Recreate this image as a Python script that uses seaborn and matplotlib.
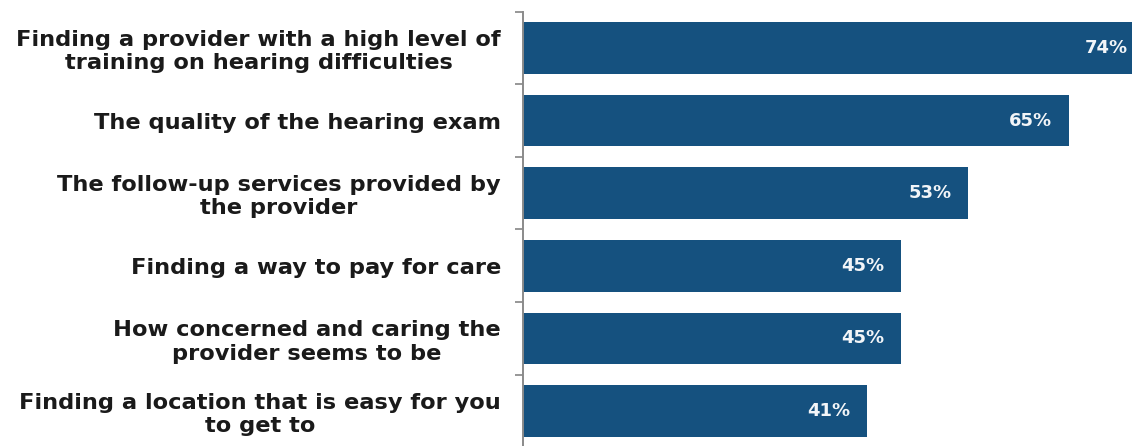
import matplotlib
matplotlib.use("Agg")
import matplotlib.pyplot as plt
import seaborn as sns
import pandas as pd
from matplotlib.ticker import FixedLocator

categories = [
    "Finding a provider with a high level of\ntraining on hearing difficulties",
    "The quality of the hearing exam",
    "The follow-up services provided by\nthe provider",
    "Finding a way to pay for care",
    "How concerned and caring the\nprovider seems to be",
    "Finding a location that is easy for you\nto get to",
]
values = [74, 65, 53, 45, 45, 41]
value_labels = ["74%", "65%", "53%", "45%", "45%", "41%"]

df = pd.DataFrame({"factor": categories, "share": values})

sns.set_theme(style="white")
plt.rcParams["font.family"] = ["DejaVu Sans"]

bar_color = "#15517f"

fig = plt.figure(figsize=(11.32, 4.46), dpi=100)
ax = fig.add_axes([0.462, -0.003, 0.538, 0.977])

sns.barplot(data=df, x="share", y="factor", orient="h", color=bar_color,
            width=0.71, saturation=1, ax=ax, edgecolor="none")

ax.set_xlim(0, 72.5)
ax.set_ylim(len(categories) - 0.5, -0.5)

# value labels inside the bar ends
for i, (v, lab) in enumerate(zip(values, value_labels)):
    ax.text(v - 2.0, i, lab, ha="right", va="center", color="#f2f5f8",
            fontsize=13, fontweight="bold")

# category labels
ax.set_yticks(range(len(categories)))
ax.set_yticklabels(categories, fontsize=16.2, fontweight="bold",
                   color="#1a1a1a", ha="right", multialignment="center",
                   linespacing=1.2)
ax.tick_params(axis="y", which="major", length=0, pad=16)

# small ticks on the boundaries between categories
ax.yaxis.set_minor_locator(FixedLocator([i - 0.5 for i in range(len(categories) + 1)]))
ax.tick_params(axis="y", which="minor", length=6, width=1.1, color="#7a7a7a",
               direction="out", left=True)

ax.set_xticks([])
ax.set_xlabel("")
ax.set_ylabel("")
for side in ["top", "right", "bottom"]:
    ax.spines[side].set_visible(False)
ax.spines["left"].set_color("#8a8a8a")
ax.spines["left"].set_linewidth(1.4)

fig.savefig("out.png", dpi=100)
